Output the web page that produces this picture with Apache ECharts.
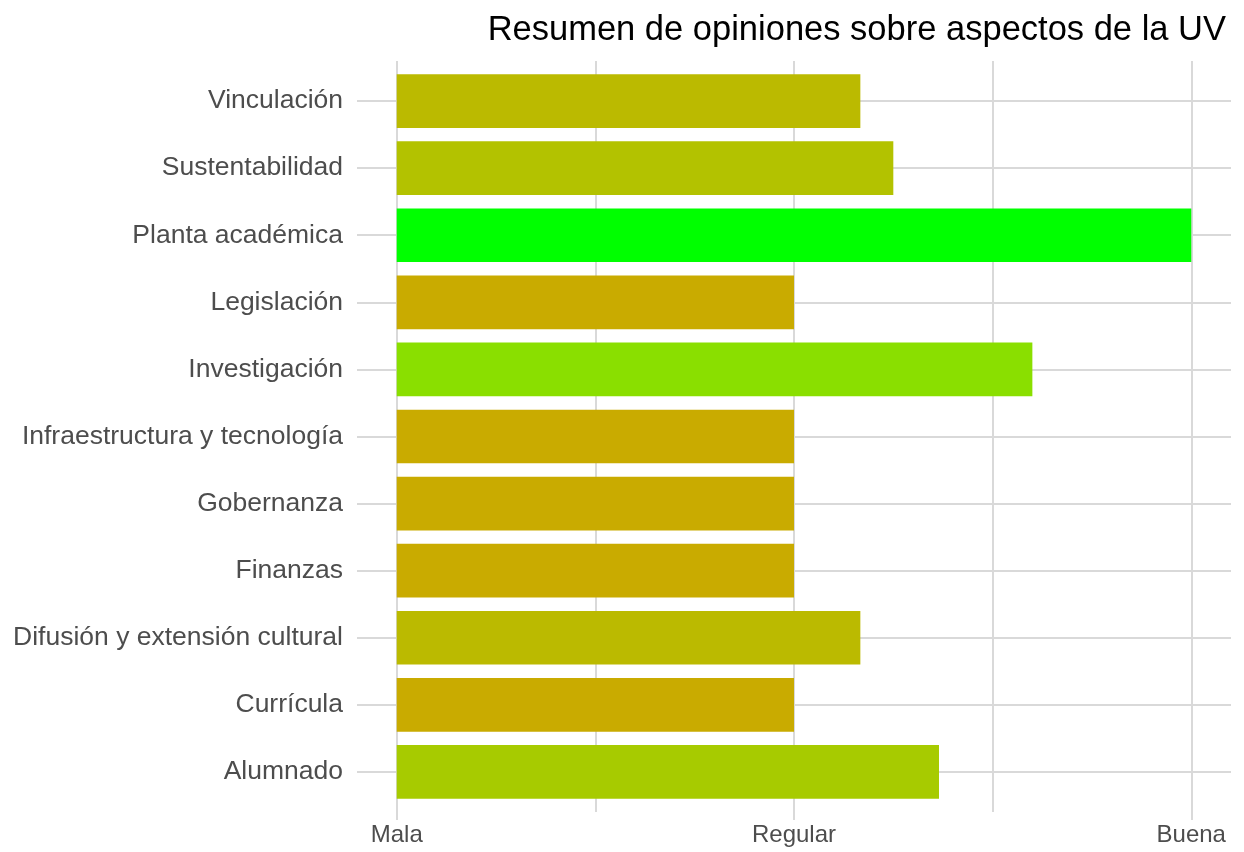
<!DOCTYPE html>
<html>
<head>
<meta charset="utf-8">
<title>Resumen de opiniones</title>
<script src="https://cdn.jsdelivr.net/npm/echarts@6/dist/echarts.min.js"></script>
<style>
  html, body { margin: 0; padding: 0; background: #fff; }
  #chart { width: 1244px; height: 852px; }
</style>
</head>
<body>
<div id="chart"></div>
<script>
// categorias, de abajo hacia arriba (orden del eje)
const aspectos = [
  'Alumnado',
  'Currícula',
  'Difusión y extensión cultural',
  'Finanzas',
  'Gobernanza',
  'Infraestructura y tecnología',
  'Investigación',
  'Legislación',
  'Planta académica',
  'Sustentabilidad',
  'Vinculación'
];
// opinion promedio: 1 = Mala, 2 = Regular, 3 = Buena
const opinion = [2.365, 2.0, 2.167, 2.0, 2.0, 2.0, 2.6, 2.0, 3.0, 2.25, 2.167];
const escala = ['Mala', 'Regular', 'Buena'];
const escalaValores = [1, 2, 3];
const rejillaX = [1, 1.5, 2, 2.5, 3];

const MALA = escalaValores[0];
const fontFam = '"Liberation Sans", Arial, Helvetica, sans-serif';
const gris = '#d9d9d9';

// gradiente rojo -> verde interpolado en Lab (como ggplot)
function toLab(hex) {
  let c = [1, 3, 5].map(i => parseInt(hex.substr(i, 2), 16) / 255)
    .map(v => v <= 0.04045 ? v / 12.92 : Math.pow((v + 0.055) / 1.055, 2.4));
  let X = (c[0] * 0.4124 + c[1] * 0.3576 + c[2] * 0.1805) / 0.95047;
  let Y = (c[0] * 0.2126 + c[1] * 0.7152 + c[2] * 0.0722);
  let Z = (c[0] * 0.0193 + c[1] * 0.1192 + c[2] * 0.9505) / 1.08883;
  let f = t => t > 0.008856 ? Math.cbrt(t) : 7.787 * t + 16 / 116;
  return [116 * f(Y) - 16, 500 * (f(X) - f(Y)), 200 * (f(Y) - f(Z))];
}
function fromLab(L, a, b) {
  let fy = (L + 16) / 116, fx = fy + a / 500, fz = fy - b / 200;
  let g = t => t * t * t > 0.008856 ? t * t * t : (t - 16 / 116) / 7.787;
  let X = g(fx) * 0.95047, Y = g(fy), Z = g(fz) * 1.08883;
  let r = X * 3.2406 + Y * -1.5372 + Z * -0.4986;
  let gg = X * -0.9689 + Y * 1.8758 + Z * 0.0415;
  let bb = X * 0.0557 + Y * -0.2040 + Z * 1.0570;
  return '#' + [r, gg, bb].map(v => {
    v = v <= 0.0031308 ? 12.92 * v : 1.055 * Math.pow(v, 1 / 2.4) - 0.055;
    v = Math.round(Math.min(1, Math.max(0, v)) * 255);
    return ('0' + v.toString(16)).slice(-2);
  }).join('');
}
const lo = toLab('#ff0000'), hi = toLab('#00ff00');
const rampa = [];
for (let i = 0; i <= 20; i++) {
  let t = i / 20;
  rampa.push(fromLab(lo[0] + (hi[0] - lo[0]) * t, lo[1] + (hi[1] - lo[1]) * t, lo[2] + (hi[2] - lo[2]) * t));
}

const chart = echarts.init(document.getElementById('chart'));

const xMin = -0.1, xMax = 2.1;

const option = {
  backgroundColor: '#fff',
  animation: false,
  textStyle: { fontFamily: fontFam },
  title: {
    text: 'Resumen de opiniones sobre aspectos de la UV',
    right: 13,
    top: 8,
    textStyle: { fontSize: 34.5, fontWeight: 'normal', color: '#000', fontFamily: fontFam }
  },
  // grid 0: barras (bandas de 67px), grid 1: panel completo para la rejilla vertical
  grid: [
    { left: 357, right: 13, top: 67.5, bottom: 46.5 },
    { left: 357, right: 13, top: 61, bottom: 40 }
  ],
  visualMap: {
    show: false,
    type: 'continuous',
    seriesIndex: 0,
    dimension: 0,
    min: escalaValores[0] - MALA,
    max: escalaValores[2] - MALA,
    inRange: { color: rampa }
  },
  xAxis: [
    {
      type: 'value', gridIndex: 0, min: xMin, max: xMax,
      show: false
    },
    {
      type: 'value', gridIndex: 1, min: xMin, max: xMax,
      axisLine: { show: false },
      splitLine: { show: false },
      axisTick: {
        show: true,
        customValues: escalaValores.map(v => v - MALA),
        length: 8,
        lineStyle: { color: gris, width: 2 }
      },
      axisLabel: {
        customValues: escalaValores.map(v => v - MALA),
        formatter: v => escala[escalaValores.indexOf(Math.round(v) + MALA)] || '',
        fontSize: 24,
        color: '#4d4d4d',
        margin: 11
      }
    }
  ],
  yAxis: [
    {
      type: 'category',
      gridIndex: 0,
      data: aspectos,
      axisLine: { show: false },
      splitLine: { show: false },
      axisTick: {
        show: true,
        alignWithLabel: true,
        length: 8,
        lineStyle: { color: gris, width: 2 }
      },
      axisLabel: { fontSize: 26.5, color: '#4d4d4d', margin: 14, padding: [4, 0, 0, 0] }
    },
    {
      type: 'value', gridIndex: 1, min: 0, max: 1, show: false
    }
  ],
  series: [
    {
      type: 'bar',
      xAxisIndex: 0,
      yAxisIndex: 0,
      barWidth: '80%',
      z: 3,
      data: opinion.map(v => v - MALA)
    },
    {
      // rejilla horizontal
      type: 'line',
      xAxisIndex: 0,
      yAxisIndex: 0,
      data: [],
      silent: true,
      markLine: {
        z: 1,
        silent: true,
        symbol: 'none',
        label: { show: false },
        lineStyle: { color: gris, width: 2, type: 'solid' },
        data: aspectos.map(a => ({ yAxis: a }))
      }
    },
    {
      // rejilla vertical
      type: 'line',
      xAxisIndex: 1,
      yAxisIndex: 1,
      data: [],
      silent: true,
      markLine: {
        z: 1,
        silent: true,
        symbol: 'none',
        label: { show: false },
        lineStyle: { color: gris, width: 2, type: 'solid' },
        data: rejillaX.map(v => ({ xAxis: v - MALA }))
      }
    }
  ]
};

chart.setOption(option);
</script>
</body>
</html>
